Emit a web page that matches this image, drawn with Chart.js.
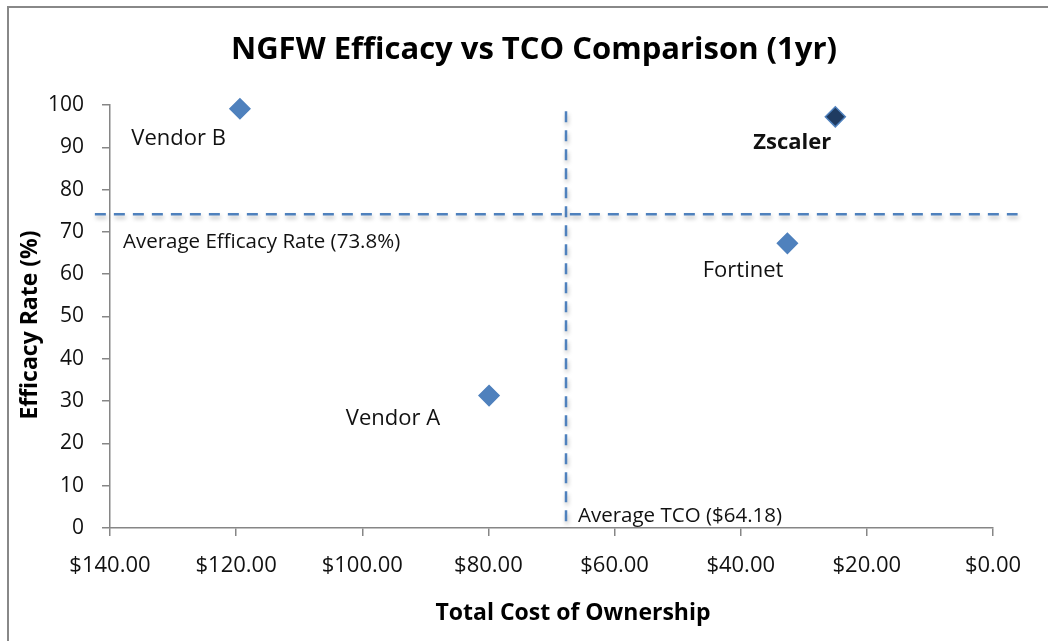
<!DOCTYPE html>
<html>
<head>
<meta charset="utf-8">
<script src="https://cdn.jsdelivr.net/npm/chart.js@4/dist/chart.umd.min.js"></script>
<style>
  html, body { margin: 0; padding: 0; background: #fff; }
  #wrap { position: relative; width: 1048px; height: 641px; }
  #frame { position: absolute; left: 7px; top: 6px; right: 0; bottom: 0;
           border-left: 2px solid #888; border-top: 2px solid #888; pointer-events: none; }
</style>
</head>
<body>
<div id="wrap">
  <canvas id="chart" width="1048" height="641"></canvas>
  <div id="frame"></div>
</div>
<script>
// Chart data
const vendors = ['Vendor B', 'Zscaler', 'Fortinet', 'Vendor A'];
const tco = [119.4, 25.0, 32.6, 79.9];          // $ per year
const efficacy = [99.1, 97.2, 67.3, 31.3];      // %

// Average reference lines (where they are drawn) and their printed labels
const avgTco = 67.7;
const avgTcoLabel = 'Average TCO ($64.18)';
const avgTcoSpan = [98.5, 0];                   // efficacy range of the vertical line
const avgEfficacy = 74.2;
const avgEfficacyLabel = 'Average Efficacy Rate (73.8%)';
const avgEfficacySpan = [142.4, -3.9];          // tco range of the horizontal line

// Axis ranges and titles
const xRange = [0, 140];
const yRange = [0, 100];
const chartTitle = 'NGFW Efficacy vs TCO Comparison (1yr)';
const xTitle = 'Total Cost of Ownership';
const yTitle = 'Efficacy Rate (%)';

// Styles
const FONT = "'Open Sans', 'DejaVu Sans', sans-serif";
const blue = '#4f81bd';
const axisGray = '#868686';
const pointFill = ['#4f81bd', '#1f3b61', '#4f81bd', '#4f81bd'];
const labelStyle = [
    { dx: -14, dy: 30, align: 'right', bold: false },
    { dx: -4, dy: 26, align: 'right', bold: true },
    { dx: -4, dy: 27, align: 'right', bold: false },
    { dx: -49, dy: 23, align: 'right', bold: false }
];

// Draws the soft shadow under the dashed average lines
const lineShadow = {
    id: 'lineShadow',
    beforeDatasetDraw(chart, args) {
        const ds = chart.data.datasets[args.index];
        if (!ds.shadow) return;
        const ctx = chart.ctx;
        ctx.save();
        ctx.shadowColor = 'rgba(0,0,0,0.28)';
        ctx.shadowBlur = 4;
        ctx.shadowOffsetX = 1;
        ctx.shadowOffsetY = 3;
    },
    afterDatasetDraw(chart, args) {
        const ds = chart.data.datasets[args.index];
        if (ds.shadow) chart.ctx.restore();
    }
};

// Titles, vendor names and average captions
const textLabels = {
    id: 'textLabels',
    afterDatasetsDraw(chart) {
        const ctx = chart.ctx;
        const x = chart.scales.x;
        const y = chart.scales.y;
        const area = chart.chartArea;
        ctx.save();
        ctx.fillStyle = '#000';
        ctx.textBaseline = 'middle';
        ctx.textAlign = 'center';

        ctx.font = 'bold 31px ' + FONT;
        ctx.fillText(chartTitle, 534, 50);
        ctx.font = 'bold 23px ' + FONT;
        ctx.fillText(xTitle, area.left + 463, 613);
        ctx.save();
        ctx.translate(30, area.top + 220);
        ctx.rotate(-Math.PI / 2);
        ctx.fillText(yTitle, 0, 0);
        ctx.restore();

        ctx.fillStyle = '#111';
        vendors.forEach((name, i) => {
            const s = labelStyle[i];
            ctx.font = (s.bold ? 'bold ' : '') + '22px ' + FONT;
            ctx.textAlign = s.align;
            ctx.fillText(name, x.getPixelForValue(tco[i]) + s.dx, y.getPixelForValue(efficacy[i]) + s.dy);
        });

        ctx.font = '20.5px ' + FONT;
        ctx.textAlign = 'left';
        ctx.fillText(avgEfficacyLabel, area.left + 13, y.getPixelForValue(avgEfficacy) + 28);
        ctx.fillText(avgTcoLabel, x.getPixelForValue(avgTco) + 12, area.bottom - 12);
        ctx.restore();
    }
};

const chart = new Chart(document.getElementById('chart'), {
    type: 'scatter',
    data: {
        datasets: [
            {
                label: 'Vendors',
                data: tco.map((v, i) => ({ x: v, y: efficacy[i] })),
                pointStyle: 'rectRot',
                pointRadius: 10,
                pointHoverRadius: 10,
                backgroundColor: pointFill,
                borderColor: blue,
                borderWidth: 1.5,
                clip: false,
                order: 0
            },
            {
                label: 'Average efficacy',
                data: avgEfficacySpan.map(v => ({ x: v, y: avgEfficacy })),
                showLine: true,
                borderColor: blue,
                borderWidth: 2.5,
                borderDash: [11, 8],
                pointRadius: 0,
                clip: false,
                shadow: true,
                order: 1
            },
            {
                label: 'Average TCO',
                data: avgTcoSpan.map(v => ({ x: avgTco, y: v })),
                showLine: true,
                borderColor: blue,
                borderWidth: 2.5,
                borderDash: [11, 8],
                pointRadius: 0,
                clip: false,
                shadow: true,
                order: 1
            }
        ]
    },
    options: {
        responsive: false,
        animation: false,
        layout: { padding: { left: 0, right: 55, top: 105, bottom: 0 } },
        plugins: {
            legend: { display: false },
            tooltip: { enabled: false },
            title: { display: false }
        },
        scales: {
            x: {
                type: 'linear',
                reverse: true,
                min: xRange[0],
                max: xRange[1],
                afterFit(scale) { scale.height = 113; },
                ticks: {
                    stepSize: 20,
                    color: '#111',
                    padding: 17,
                    font: { family: FONT, size: 22 },
                    callback: v => '$' + v.toFixed(2)
                },
                grid: { drawOnChartArea: false, drawTicks: true, tickLength: 8, color: axisGray, lineWidth: 1.5 },
                border: { color: axisGray, width: 1.5 }
            },
            y: {
                min: yRange[0],
                max: yRange[1],
                afterFit(scale) { scale.width = 110; },
                ticks: {
                    stepSize: 10,
                    color: '#111',
                    padding: 18,
                    font: { family: FONT, size: 21 }
                },
                grid: { drawOnChartArea: false, drawTicks: true, tickLength: 8, color: axisGray, lineWidth: 1.5 },
                border: { color: axisGray, width: 1.5 }
            }
        }
    },
    plugins: [lineShadow, textLabels]
});
</script>
</body>
</html>
